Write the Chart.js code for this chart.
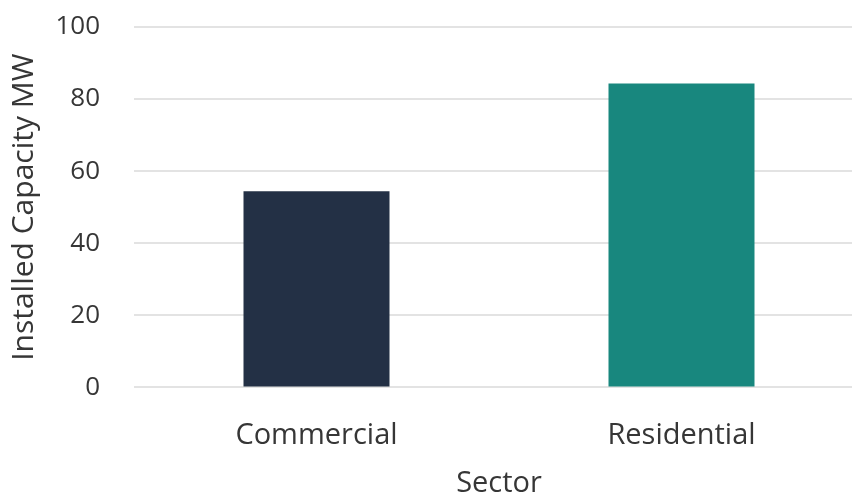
<!DOCTYPE html>
<html lang="en">
<head>
    <meta charset="UTF-8">
    <title>Installed Capacity by Sector</title>
    <script src="https://cdn.jsdelivr.net/npm/chart.js"></script>
    <style>
        html, body {
            margin: 0;
            padding: 0;
            background: #ffffff;
            overflow: hidden;
        }
        .chart-container {
            width: 864px;
            height: 496px;
        }
    </style>
</head>
<body>
    <div class="chart-container">
        <canvas id="capacityChart"></canvas>
    </div>

    <script>
        const sectors = ["Commercial", "Residential"];
        const capacityMW = [54.4, 84.3];
        const barColors = ["#233045", "#18877e"];
        const yTicks = [0, 20, 40, 60, 80, 100];

        const fontFamily = "'Open Sans', 'Noto Sans', sans-serif";
        const textColor = "#363636";

        const ctx = document.getElementById("capacityChart").getContext("2d");
        new Chart(ctx, {
            type: "bar",
            data: {
                labels: sectors,
                datasets: [{
                    label: "Installed Capacity MW",
                    data: capacityMW,
                    backgroundColor: barColors,
                    borderWidth: 0,
                    categoryPercentage: 0.8,
                    barPercentage: 0.5
                }]
            },
            options: {
                responsive: true,
                maintainAspectRatio: false,
                animation: false,
                layout: { padding: { top: 0, left: 6, right: 0, bottom: -5 } },
                plugins: {
                    legend: { display: false },
                    tooltip: { enabled: false }
                },
                scales: {
                    x: {
                        grid: { display: false },
                        border: { display: false },
                        ticks: {
                            color: textColor,
                            font: { family: fontFamily, size: 29 },
                            padding: 23
                        },
                        title: {
                            display: true,
                            text: "Sector",
                            color: textColor,
                            font: { family: fontFamily, size: 29 },
                            padding: { top: -10, bottom: 0 }
                        }
                    },
                    y: {
                        min: yTicks[0],
                        max: yTicks[yTicks.length - 1],
                        afterBuildTicks: axis => {
                            axis.ticks = yTicks.map(v => ({ value: v }));
                        },
                        // pin the plot area: left edge near 134px, top gridline at 27px
                        afterFit: scale => {
                            scale.width = 128;
                            scale.paddingTop = 27;
                            scale.paddingBottom = 0;
                        },
                        grid: {
                            color: "#e3e3e3",
                            lineWidth: 2,
                            drawTicks: false
                        },
                        border: { display: false },
                        ticks: {
                            color: textColor,
                            font: { family: fontFamily, size: 26 },
                            padding: 34
                        },
                        title: {
                            display: true,
                            text: "Installed Capacity MW",
                            color: textColor,
                            font: { family: fontFamily, size: 30 },
                            padding: { top: 0, bottom: 0 }
                        }
                    }
                }
            }
        });
    </script>
</body>
</html>
